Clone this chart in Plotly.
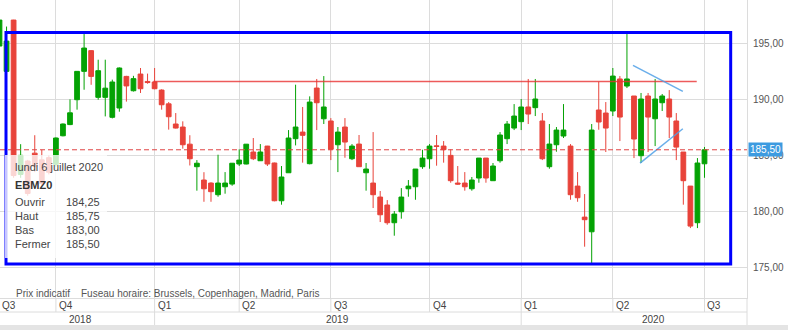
import pandas as pd
import plotly.graph_objects as go

# ---------------- data ----------------
first_week = "2018-08-06"
n_weeks = 101
dates = pd.date_range(first_week, periods=n_weeks, freq="7D")

opens = [194.76, 192.5, 197.08, 183.3, 184.5, 185.2, 184.6, 184.8, 184.2, 186.75,
         187.75, 189.97, 192.5, 194.35, 190.18, 190.18, 188.4, 189.23, 192.05, 190.77,
         192.26, 191.6, 191.55, 190.83, 189.6, 187.8, 187.53, 186.0, 183.99, 182.8,
         182.53, 181.49, 182.2, 182.44, 184.23, 184.23, 185.3, 184.52, 185.83, 184.32,
         180.95, 183.45, 186.49, 187.08, 184.26, 191.01, 188.27, 188.07, 185.95, 187.53,
         184.7, 186.01, 183.45, 182.53, 181.28, 180.57, 178.99, 179.97, 182.02, 182.2,
         183.99, 184.7, 185.85, 185.83, 185.0, 182.53, 182.53, 182.02, 182.98, 184.76,
         182.74, 184.52, 186.49, 187.44, 188.01, 189.32, 189.26, 188.07, 183.99, 185.95,
         186.73, 185.83, 182.26, 179.49, 178.18, 189.05, 188.78, 188.96, 191.82, 191.19,
         190.3, 184.97, 190.3, 188.27, 189.7, 190.03, 188.07, 185.3, 182.26, 178.99,
         184.25]
highs = [197.1, 196.5, 197.1, 186.0, 184.6, 186.8, 185.5, 185.0, 186.6, 187.85,
         190.0, 192.5, 195.83, 194.4, 193.54, 193.54, 191.76, 192.85, 192.1, 192.1,
         192.8, 192.3, 192.8, 190.9, 189.76, 188.78, 188.04, 186.8, 184.58, 183.5,
         182.6, 185.06, 183.51, 184.32, 185.54, 186.01, 186.55, 186.01, 185.85, 184.35,
         184.05, 187.26, 191.31, 189.32, 190.27, 191.82, 192.08, 188.33, 187.53, 188.33,
         186.01, 186.82, 184.32, 187.08, 181.82, 181.01, 180.03, 182.08, 182.8, 183.78,
         185.5, 186.01, 186.82, 186.28, 185.54, 184.05, 183.51, 183.07, 184.76, 184.76,
         184.32, 187.08, 188.07, 189.58, 190.03, 191.82, 191.82, 188.78, 187.8, 187.53,
         189.58, 186.01, 183.51, 181.55, 187.8, 191.58, 189.76, 192.8, 192.08, 195.83,
         190.3, 190.57, 190.57, 191.82, 190.48, 190.83, 188.78, 185.3, 182.26, 184.76,
         185.75]
lows = [194.7, 192.45, 183.0, 183.0, 181.4, 183.5, 182.3, 183.3, 184.0, 186.7,
        187.7, 189.08, 190.86, 191.3, 189.97, 188.48, 188.3, 188.9, 189.8, 190.7,
        190.57, 191.4, 190.9, 189.08, 187.3, 187.4, 185.6, 184.1, 181.85, 180.86,
        180.86, 181.31, 181.58, 182.29, 184.05, 184.2, 184.58, 184.5, 184.05, 180.9,
        180.6, 183.45, 185.89, 184.35, 184.2, 187.26, 187.8, 184.58, 183.51, 184.79,
        184.58, 183.99, 181.85, 180.3, 179.05, 178.81, 177.83, 179.35, 181.31, 181.04,
        183.8, 183.81, 184.08, 184.35, 182.56, 182.38, 181.85, 181.85, 182.56, 182.56,
        182.74, 184.35, 186.01, 187.26, 187.26, 187.8, 188.51, 184.58, 183.81, 185.33,
        186.55, 181.04, 180.86, 176.85, 175.39, 187.29, 185.3, 188.51, 186.28, 191.01,
        184.76, 184.32, 185.3, 185.83, 188.96, 186.55, 184.58, 180.6, 178.51, 178.51,
        183.0]
closes = [197.08, 195.2, 183.2, 185.0, 181.6, 184.0, 182.5, 183.5, 186.55, 187.8,
          188.8, 192.5, 194.58, 192.05, 192.56, 191.0, 191.55, 192.8, 191.2, 191.85,
          190.95, 191.5, 190.95, 189.52, 188.45, 187.44, 185.95, 184.7, 184.3, 182.02,
          181.76, 182.53, 182.53, 184.3, 184.58, 186.0, 184.7, 185.3, 184.23, 180.95,
          183.07, 186.55, 187.53, 186.79, 189.76, 189.7, 189.32, 185.54, 187.08, 186.19,
          185.83, 183.99, 183.78, 181.49, 179.7, 178.99, 179.76, 181.28, 182.26, 183.78,
          184.76, 185.83, 185.8, 185.51, 182.74, 182.44, 182.2, 182.8, 184.76, 182.98,
          184.05, 186.82, 187.8, 188.51, 189.32, 188.69, 190.03, 184.7, 186.01, 187.26,
          187.26, 181.49, 181.22, 179.26, 187.26, 187.98, 187.44, 192.08, 188.42, 191.82,
          186.46, 190.03, 188.42, 190.03, 190.3, 188.42, 185.74, 182.74, 178.69, 184.32,
          185.5]

last_close = 185.50
y_ticks = [175, 180, 185, 190, 195]
quarter_dates = ["2018-10-01", "2019-01-07", "2019-04-01", "2019-07-01",
                 "2019-10-07", "2020-01-06", "2020-04-06", "2020-07-06"]
quarter_labels = ["Q4", "Q1", "Q2", "Q3", "Q4", "Q1", "Q2", "Q3"]
year_labels = ["2018", "2019", "2020"]
year_label_px = [80, 337, 653]
year_sep_dates = ["2019-01-07", "2020-01-06"]

# drawing annotations (user drawn lines)
resist_x = ["2019-01-05 17:00", "2020-06-28 07:00"]
resist_y = [191.6, 191.6]
tri_upper_x = ["2020-04-26", "2020-06-14 12:00"]
tri_upper_y = [193.04, 190.71]
tri_lower_x = ["2020-05-03", "2020-06-14 12:00"]
tri_lower_y = [184.31, 187.38]
box_x = ["2018-08-12 11:00", "2020-08-01"]
box_y = [175.31, 195.96]

info_date = "lundi 6 juillet 2020"
info_code = "EBMZ0"
info_labels = ["Ouvrir", "Haut", "Bas", "Fermer"]
info_values = ["184,25", "185,75", "183,00", "185,50"]

# ---------------- style ----------------
W, H = 788, 330
ML, MR, MT, MB = 0, 41, 0, 32
PW, PH = W - ML - MR, H - MT - MB
GREEN = "#04a204"
RED = "#e8433a"
GRID = "#dcdcdc"
FONT = "Arial, 'Liberation Sans', sans-serif"

def py(pix):  # pixel from top of plot -> paper y
    return 1 - pix / PH

def px(pix):
    return pix / PW

fig = go.Figure()
fig.add_trace(go.Candlestick(
    x=dates, open=opens, high=highs, low=lows, close=closes,
    increasing=dict(line=dict(color=GREEN, width=1), fillcolor=GREEN),
    decreasing=dict(line=dict(color=RED, width=1), fillcolor=RED),
    whiskerwidth=0, hoverinfo="skip", showlegend=False))

fig.add_trace(go.Scatter(x=resist_x, y=resist_y, mode="lines",
                         line=dict(color="rgba(232,50,50,0.8)", width=1.5),
                         hoverinfo="skip", showlegend=False))
for xs, ys in [(tri_upper_x, tri_upper_y), (tri_lower_x, tri_lower_y)]:
    fig.add_trace(go.Scatter(x=xs, y=ys, mode="lines",
                             line=dict(color="rgba(80,160,230,0.85)", width=1.5),
                             hoverinfo="skip", showlegend=False))

shapes = []
# dashed last-price line
shapes.append(dict(type="line", xref="paper", yref="y", x0=0, x1=1,
                   y0=last_close, y1=last_close,
                   line=dict(color="#e04444", width=1, dash="5px,3px")))
# blue rectangle
shapes.append(dict(type="rect", xref="x", yref="y", x0=box_x[0], x1=box_x[1],
                   y0=box_y[0], y1=box_y[1], line=dict(color="#0000ff", width=3)))
# info box background
shapes.append(dict(type="rect", xref="paper", yref="paper",
                   x0=px(5), x1=px(107), y0=py(258), y1=py(155),
                   fillcolor="rgba(255,255,255,0.78)", line=dict(width=0),
                   layer="above"))
# bottom axis rows
for d in quarter_dates:
    shapes.append(dict(type="line", xref="x", yref="paper", x0=d, x1=d,
                       y0=py(312), y1=0, line=dict(color=GRID, width=1)))
for d in year_sep_dates:
    shapes.append(dict(type="line", xref="x", yref="paper", x0=d, x1=d,
                       y0=py(325), y1=py(312), line=dict(color=GRID, width=1)))
shapes.append(dict(type="line", xref="paper", yref="paper", x0=0, x1=1,
                   y0=py(312), y1=py(312), line=dict(color=GRID, width=1)))
shapes.append(dict(type="line", xref="paper", yref="paper", x0=1, x1=1,
                   y0=py(325), y1=0, line=dict(color=GRID, width=1)))
shapes.append(dict(type="rect", xref="paper", yref="paper", x0=0, x1=W / PW,
                   y0=py(H), y1=py(325), fillcolor="#e4e4e4", line=dict(width=0)))

ann = []
ann.append(dict(xref="paper", yref="paper", x=px(13), y=py(167), text=info_date,
                showarrow=False, xanchor="left", yanchor="middle",
                font=dict(size=11, color="#444", family=FONT)))
ann.append(dict(xref="paper", yref="paper", x=px(13), y=py(185), text="<b>" + info_code + "</b>",
                showarrow=False, xanchor="left", yanchor="middle",
                font=dict(size=11, color="#333", family=FONT)))
for k, (lab, val) in enumerate(zip(info_labels, info_values)):
    yy = 202 + k * 14
    ann.append(dict(xref="paper", yref="paper", x=px(13), y=py(yy), text=lab,
                    showarrow=False, xanchor="left", yanchor="middle",
                    font=dict(size=11, color="#444", family=FONT)))
    ann.append(dict(xref="paper", yref="paper", x=px(102), y=py(yy), text=val,
                    showarrow=False, xanchor="right", yanchor="middle",
                    font=dict(size=11, color="#444", family=FONT)))
# footer note
ann.append(dict(xref="paper", yref="paper", x=px(14), y=py(293), text="Prix indicatif",
                showarrow=False, xanchor="left", yanchor="middle",
                font=dict(size=10, color="#555", family=FONT)))
ann.append(dict(xref="paper", yref="paper", x=px(79), y=py(293),
                text="Fuseau horaire: Brussels, Copenhagen, Madrid, Paris",
                showarrow=False, xanchor="left", yanchor="middle",
                font=dict(size=10, color="#555", family=FONT)))
# quarter labels
ann.append(dict(xref="paper", yref="paper", x=0, y=py(305), text="Q3",
                showarrow=False, xanchor="left", yanchor="middle", xshift=0,
                font=dict(size=10, color="#444", family=FONT)))
for d, q in zip(quarter_dates, quarter_labels):
    ann.append(dict(xref="x", yref="paper", x=d, y=py(305), text=q,
                    showarrow=False, xanchor="left", yanchor="middle", xshift=1,
                    font=dict(size=10, color="#444", family=FONT)))
for yl, xp in zip(year_labels, year_label_px):
    ann.append(dict(xref="paper", yref="paper", x=px(xp), y=py(319), text=yl,
                    showarrow=False, xanchor="center", yanchor="middle",
                    font=dict(size=10, color="#444", family=FONT)))
# price tag
ann.append(dict(xref="paper", yref="y", x=1, y=last_close, text="185,50",
                showarrow=False, xanchor="left", yanchor="middle", xshift=1,
                bgcolor="#3d9be0", borderpad=1,
                font=dict(size=10, color="white", family=FONT)))

fig.update_layout(
    width=W, height=H,
    margin=dict(l=ML, r=MR, t=MT, b=MB, pad=0),
    paper_bgcolor="white", plot_bgcolor="white",
    separators=", ",
    boxgap=0.18, boxgroupgap=0.18,
    shapes=shapes, annotations=ann,
    showlegend=False,
    font=dict(family=FONT, size=10, color="#555"),
    xaxis=dict(type="date", range=["2018-08-06 12:00", "2020-08-17 05:00"],
               rangeslider=dict(visible=False), tickvals=quarter_dates,
               showticklabels=False, showgrid=True, gridcolor=GRID, gridwidth=1,
               showline=True, linecolor=GRID, linewidth=1, zeroline=False, ticks=""),
    yaxis=dict(side="right", range=[172.27, 198.87], tickvals=y_ticks,
               tickformat=".2f", showgrid=True, gridcolor=GRID, gridwidth=1,
               showline=True, linecolor=GRID, linewidth=1, zeroline=False,
               ticks="", ticklabelstandoff=3,
               tickfont=dict(size=10, color="#555", family=FONT)),
)

fig.write_html("out.html")
